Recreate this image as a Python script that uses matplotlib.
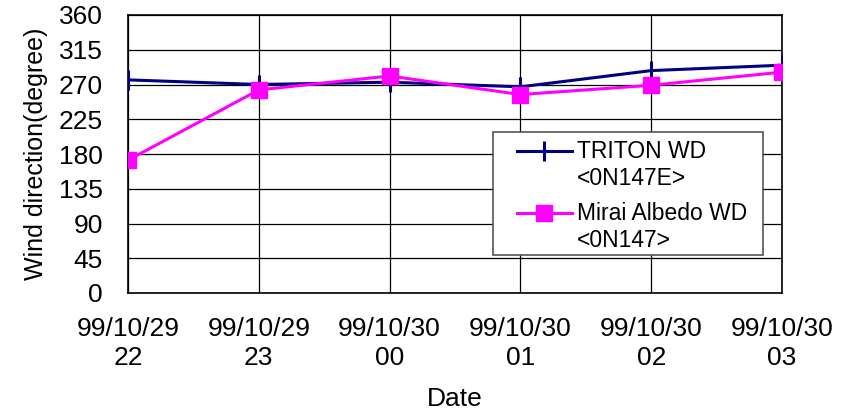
import matplotlib
matplotlib.use("Agg")
import matplotlib.pyplot as plt
from matplotlib.lines import Line2D
from matplotlib.patches import Rectangle

plt.rcParams['font.family'] = ['Liberation Sans', 'DejaVu Sans']

dates = ["99/10/29\n22", "99/10/29\n23", "99/10/30\n00",
         "99/10/30\n01", "99/10/30\n02", "99/10/30\n03"]
triton_wd = [276, 270, 273, 267, 288, 295]
mirai_wd = [172, 263, 281, 257, 269, 286]
y_ticks = [0, 45, 90, 135, 180, 225, 270, 315, 360]
legend_labels = [("TRITON WD", "<0N147E>"), ("Mirai Albedo WD", "<0N147>")]

FS = 19
NAVY = "#000080"
MAGENTA = "#FF00FF"

W, H = 858, 416
fig = plt.figure(figsize=(W / 100, H / 100), dpi=100)
AX_L, AX_R, AX_T, AX_B = 128, 782, 15, 293
ax = fig.add_axes([AX_L / W, 1 - AX_B / H, (AX_R - AX_L) / W, (AX_B - AX_T) / H])

styles = [dict(color=NAVY, lw=2.2, marker="|", ms=14, mew=2.2),
          dict(color=MAGENTA, lw=2.2, marker="s", ms=11)]

x = list(range(len(dates)))
ax.plot(x, triton_wd, zorder=3, **styles[0])
ax.plot(x, mirai_wd, zorder=4, **styles[1])

ax.set_xlim(0, len(dates) - 1)
ax.set_ylim(0, 360)
ax.set_yticks(y_ticks)
ax.set_xticks(x)
ax.set_xticklabels(dates, fontsize=FS, linespacing=1.3)
ax.tick_params(axis="y", labelsize=FS, length=0, pad=18)
ax.tick_params(axis="x", length=0, pad=17)
ax.grid(True, color="black", lw=0.9)
for s in ax.spines.values():
    s.set_color("black")
    s.set_linewidth(1.2)

ax.set_ylabel("Wind direction(degree)", fontsize=18, labelpad=8)
ax.set_xlabel("Date", fontsize=FS, labelpad=12)


# Legend box drawn in axes-fraction units from pixel layout
def fx(px):
    return (px - AX_L) / (AX_R - AX_L)


def fy(py):
    return (AX_B - py) / (AX_B - AX_T)


ax.add_patch(Rectangle((fx(493), fy(255)), fx(763) - fx(493), fy(132) - fy(255),
                       transform=ax.transAxes, facecolor="white", edgecolor="#555555",
                       lw=1.2, zorder=10, clip_on=False))
rows = [(151, 178), (213, 240)]
for (top, bottom), (lab1, lab2), st in zip(rows, legend_labels, styles):
    ax.add_line(Line2D([fx(517), fx(572)], [fy(top), fy(top)], transform=ax.transAxes,
                       zorder=11, markevery=[], color=st["color"], lw=st["lw"]))
    ax.add_line(Line2D([fx(544.5)], [fy(top)], transform=ax.transAxes, zorder=12,
                       linestyle="none", **{k: v for k, v in st.items() if k != "lw"}))
    ax.text(fx(577), fy(top), lab1, transform=ax.transAxes, fontsize=16.5,
            va="center", ha="left", zorder=12)
    ax.text(fx(577), fy(bottom), lab2, transform=ax.transAxes, fontsize=16.5,
            va="center", ha="left", zorder=12)

fig.savefig("out.png", dpi=100)
